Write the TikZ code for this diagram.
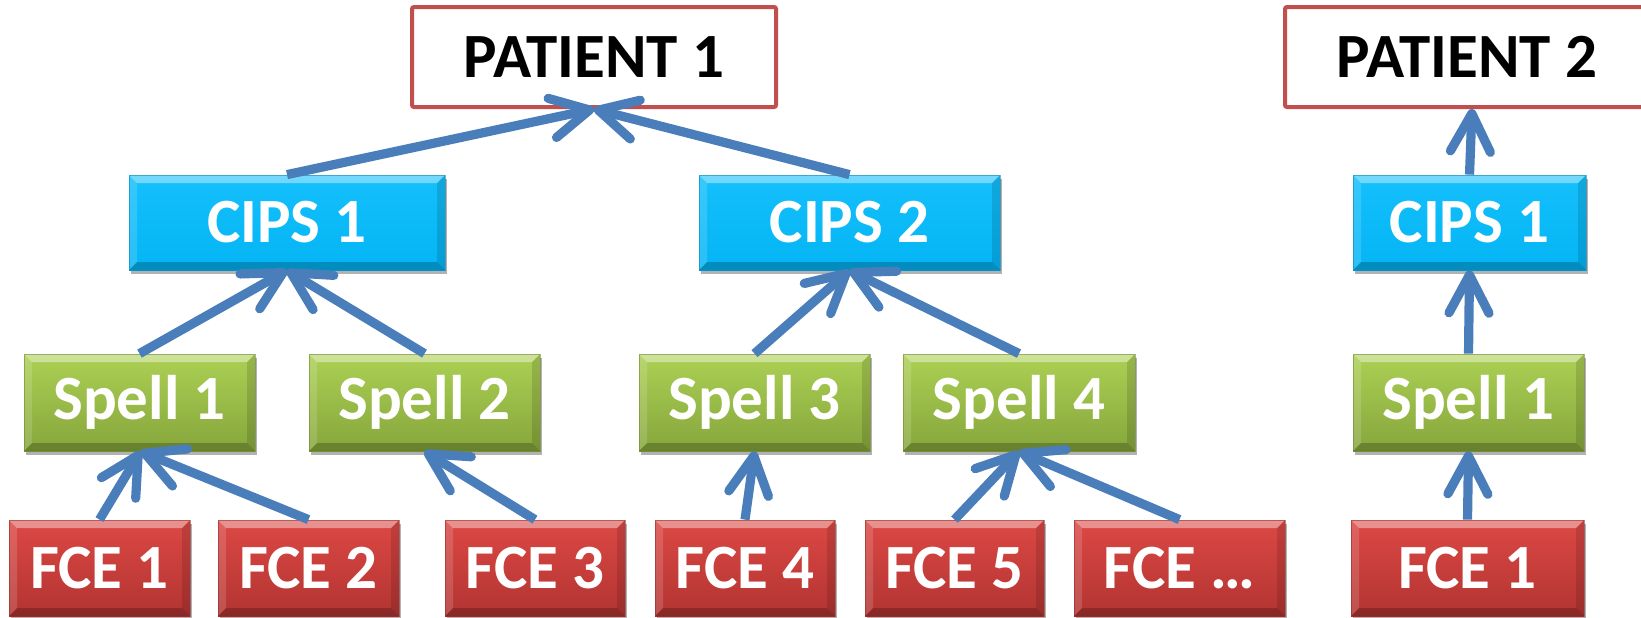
\documentclass[tikz,border=0pt]{standalone}
\usepackage{fontspec}
\setmainfont{Carlito}
\usetikzlibrary{arrows.meta,shadows}
\definecolor{arrowblue}{RGB}{74,126,187}
\definecolor{patred}{RGB}{192,80,77}
\definecolor{cipstop}{RGB}{20,192,252}
\definecolor{cipsbot}{RGB}{4,180,244}
\definecolor{cipsedge}{RGB}{10,120,170}
\definecolor{spelltop}{RGB}{172,208,84}
\definecolor{spellbot}{RGB}{134,166,60}
\definecolor{spelledge}{RGB}{100,125,45}
\definecolor{fcetop}{RGB}{220,72,68}
\definecolor{fcebot}{RGB}{178,52,50}
\definecolor{fceedge}{RGB}{130,40,38}
\tikzset{
  lbl/.style={font=\fontsize{31.5}{31.5}\selectfont\bfseries, inner sep=0pt},
  dims/.style 2 args={minimum width=#1*0.5pt, minimum height=#2*0.5pt},
  bevel/.style={path picture={
      \coordinate (bnw) at (path picture bounding box.north west);
      \coordinate (bne) at (path picture bounding box.north east);
      \coordinate (bsw) at (path picture bounding box.south west);
      \coordinate (bse) at (path picture bounding box.south east);
      \fill[white,opacity=0.4] (bnw) -- (bne) -- ([shift={(-4pt,-4pt)}]bne) -- ([shift={(4pt,-4pt)}]bnw) -- cycle;
      \fill[white,opacity=0.15] (bnw) -- ([shift={(4pt,-4pt)}]bnw) -- ([shift={(4pt,4pt)}]bsw) -- (bsw) -- cycle;
      \fill[black,opacity=0.12] (bne) -- ([shift={(-4pt,-4pt)}]bne) -- ([shift={(-4pt,4pt)}]bse) -- (bse) -- cycle;
      \fill[black,opacity=0.22] (bsw) -- (bse) -- ([shift={(-4pt,4pt)}]bse) -- ([shift={(4pt,4pt)}]bsw) -- cycle;
  }},
  shade box/.style={lbl, text=white, bevel,
    drop shadow={shadow xshift=1.2pt, shadow yshift=-2pt, opacity=0.3, fill=black}},
  cipsbox/.style={shade box, top color=cipstop, bottom color=cipsbot, draw=cipsedge, draw opacity=0.5, line width=0.4pt},
  spellbox/.style={shade box, top color=spelltop, bottom color=spellbot, draw=spelledge, draw opacity=0.5, line width=0.4pt},
  fcebox/.style={shade box, top color=fcetop, bottom color=fcebot, draw=fceedge, draw opacity=0.5, line width=0.4pt},
  patbox/.style={lbl, text=black, fill=white, draw=patred, line width=2pt, rounded corners=1pt},
  conn/.style={draw=arrowblue, line width=4.6pt, -{Straight Barb[length=19pt, width=20pt, round]}}
}
\begin{document}
\begin{tikzpicture}[x=0.5pt,y=-0.5pt]
\useasboundingbox (0,0) rectangle (1641,617);
\clip (0,0) rectangle (1641,617);
% patients
\node[patbox, dims={364}{100}] (pat1) at (594,57) {PATIENT 1};
\node[patbox, dims={364}{100}] (pat2) at (1467,57) {PATIENT 2};
% CIPS
\node[cipsbox, dims={316}{95}] (cips1) at (287,222.5) {CIPS 1};
\node[cipsbox, dims={301}{95}] (cips2) at (849.5,222.5) {CIPS 2};
\node[cipsbox, dims={233}{95}] (cips3) at (1469.5,222.5) {CIPS 1};
% Spells
\node[spellbox, dims={231}{97}] (spell1) at (139.5,402.5) {Spell 1};
\node[spellbox, dims={231}{97}] (spell2) at (424.5,402.5) {Spell 2};
\node[spellbox, dims={231}{97}] (spell3) at (754.5,402.5) {Spell 3};
\node[spellbox, dims={232}{97}] (spell4) at (1019,402.5) {Spell 4};
\node[spellbox, dims={231}{97}] (spell5) at (1468.5,402.5) {Spell 1};
% FCEs
\node[fcebox, dims={181}{96}] (fce1) at (99.5,568) {FCE 1};
\node[fcebox, dims={181}{96}] (fce2) at (308.5,568) {FCE 2};
\node[fcebox, dims={180}{96}] (fce3) at (535,568) {FCE 3};
\node[fcebox, dims={180}{96}] (fce4) at (745,568) {FCE 4};
\node[fcebox, dims={179}{96}] (fce5) at (954.5,568) {FCE 5};
\node[fcebox, dims={211}{96}] (fce6) at (1179.5,568) {FCE \dots};
\node[fcebox, dims={233}{96}] (fce7) at (1467.5,568) {FCE 1};
% connectors
\draw[conn] (cips1.north) -- (pat1.south);
\draw[conn] (cips2.north) -- (pat1.south);
\draw[conn] (cips3.north) -- ([xshift=2.5pt]pat2.south);
\draw[conn] (spell1.north) -- (cips1.south);
\draw[conn] (spell2.north) -- (cips1.south);
\draw[conn] (spell3.north) -- (cips2.south);
\draw[conn] (spell4.north) -- (cips2.south);
\draw[conn] (spell5.north) -- (cips3.south);
\draw[conn] (fce1.north) -- ([xshift=0.5pt]spell1.south);
\draw[conn] (fce2.north) -- ([xshift=0.5pt]spell1.south);
\draw[conn] (fce3.north) -- (spell2.south);
\draw[conn] (fce4.north) -- (spell3.south);
\draw[conn] (fce5.north) -- (spell4.south);
\draw[conn] (fce6.north) -- (spell4.south);
\draw[conn] (fce7.north) -- (spell5.south);
\end{tikzpicture}
\end{document}
